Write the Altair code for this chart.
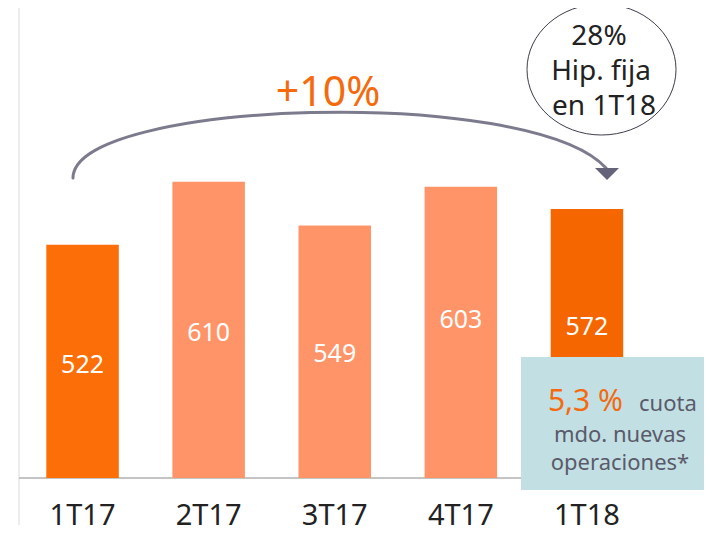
import altair as alt
import pandas as pd

# ---- data ----
quarters = ["1T17", "2T17", "3T17", "4T17", "1T18"]
values = [522, 610, 549, 603, 572]
label_at = [354, 399, 370, 417, 407]          # where each value label sits (data units)
bar_colors = ["#fc6f08", "#ff9468", "#ff9468", "#ff9468", "#f56600"]

growth_text = "+10%"
bubble_lines = ["28%", "Hip. fija", "en 1T18"]
box_head = "5,3 %"
box_head_tail = "cuota"
box_lines = ["mdo. nuevas", "operaciones*"]

FONT = "Noto Sans"
BASE = 197
TOP = 852

df = pd.DataFrame({"quarter": quarters, "value": values, "label_at": label_at})
one = alt.Data(values=[{"a": 1}])

W, H = 696, 470
OFF = 8  # page margin


def px(x):
    return x - OFF


x_enc = alt.X(
    "quarter:N",
    sort=quarters,
    scale=alt.Scale(range=[11.5, 642], paddingInner=0.425, paddingOuter=0.2125),
    axis=alt.Axis(
        title=None, labelAngle=0, domain=False, ticks=False, tickSize=0,
        labelFont=FONT, labelFontSize=29, labelColor="#222222",
        labelBaseline="alphabetic", labelPadding=46, grid=False,
    ),
)
y_scale = alt.Scale(domain=[BASE, TOP], zero=False, nice=False)

base = alt.Chart(df)

bars = base.mark_bar().encode(
    x=x_enc,
    y=alt.Y("value:Q", scale=y_scale, axis=None),
    y2=alt.datum(BASE),
    color=alt.Color("quarter:N", scale=alt.Scale(domain=quarters, range=bar_colors), legend=None),
)

bar_labels = base.mark_text(
    font=FONT, fontSize=25, color="white", baseline="middle", align="center"
).encode(
    x=alt.X("quarter:N", sort=quarters),
    y=alt.Y("label_at:Q", scale=y_scale),
    text=alt.Text("value:Q"),
)

# frame lines
left_border = alt.Chart(one).mark_rule(color="#ececec", strokeWidth=2).encode(
    x=alt.value(px(19)), y=alt.value(0), y2=alt.value(517))
right_border = alt.Chart(one).mark_rule(color="#ececec", strokeWidth=2).encode(
    x=alt.value(px(707)), y=alt.value(0), y2=alt.value(517))
baseline = alt.Chart(one).mark_rule(color="#c4c4c4", strokeWidth=2).encode(
    x=alt.value(px(19)), x2=alt.value(px(707)), y=alt.value(px(478)))

# info box
box = alt.Chart(one).mark_rect(color="#c2e0e4").encode(
    x=alt.value(px(521)), x2=alt.value(W), y=alt.value(px(357)), y2=alt.value(px(490)))
box_t1 = alt.Chart(one).mark_text(font=FONT, fontSize=30, color="#f36a10", align="right",
                                   baseline="alphabetic").encode(
    x=alt.value(px(623)), y=alt.value(px(411)), text=alt.value(box_head))
box_t2 = alt.Chart(one).mark_text(font=FONT, fontSize=22, color="#5a5a6a", align="left",
                                   baseline="alphabetic").encode(
    x=alt.value(px(639)), y=alt.value(px(411)), text=alt.value(box_head_tail))
box_t3 = alt.Chart(one).mark_text(font=FONT, fontSize=22, color="#5a5a6a", align="center",
                                   baseline="alphabetic").encode(
    x=alt.value(px(620)), y=alt.value(px(442)), text=alt.value(box_lines[0]))
box_t4 = alt.Chart(one).mark_text(font=FONT, fontSize=22, color="#5a5a6a", align="center",
                                   baseline="alphabetic").encode(
    x=alt.value(px(620)), y=alt.value(px(470)), text=alt.value(box_lines[1]))

# curved arrow (custom symbol path in unit square)
acx, acy, half = 340, 145, 270
pts = [(73, 178), (73, 100), (530, 85), (606, 168)]
u = [((x - acx) / half, (y - acy) / half) for x, y in pts]
arc_path = "M {:.4f} {:.4f} C {:.4f} {:.4f} {:.4f} {:.4f} {:.4f} {:.4f}".format(
    u[0][0], u[0][1], u[1][0], u[1][1], u[2][0], u[2][1], u[3][0], u[3][1])
arc = alt.Chart(one).mark_point(
    shape=arc_path, filled=False, stroke="#7c7b8e", strokeWidth=3, opacity=1,
    strokeCap="round", size=(2 * half) ** 2,
).encode(x=alt.value(px(acx)), y=alt.value(px(acy)))

arrow_head = alt.Chart(one).mark_point(
    shape="M -1 -0.5 L 1 -0.5 L 0 0.5 Z", filled=True, color="#64637a", opacity=1,
    size=24 ** 2,
).encode(x=alt.value(px(607)), y=alt.value(px(174)))

growth = alt.Chart(one).mark_text(font=FONT, fontSize=41, color="#f46a0c", align="center",
                                   baseline="alphabetic").encode(
    x=alt.value(px(328)), y=alt.value(px(106)), text=alt.value(growth_text))

# bubble (ellipse)
ew, eh = 149, 131
ry = eh / ew
k = 0.5523
ell_path = (
    f"M -1 0 C -1 {-k*ry:.4f} {-k:.4f} {-ry:.4f} 0 {-ry:.4f} "
    f"C {k:.4f} {-ry:.4f} 1 {-k*ry:.4f} 1 0 "
    f"C 1 {k*ry:.4f} {k:.4f} {ry:.4f} 0 {ry:.4f} "
    f"C {-k:.4f} {ry:.4f} -1 {k*ry:.4f} -1 0 Z"
)
bubble = alt.Chart(one).mark_point(
    shape=ell_path, filled=False, stroke="#3c3c4c", strokeWidth=1, opacity=1, size=ew ** 2,
).encode(x=alt.value(px(601.5)), y=alt.value(px(69.5)))

bubble_texts = []
for line, (bx, by) in zip(bubble_lines, [(599, 45), (601, 80), (604, 115)]):
    bubble_texts.append(
        alt.Chart(one).mark_text(font=FONT, fontSize=28, color="#222222", align="center",
                                 baseline="alphabetic").encode(
            x=alt.value(px(bx)), y=alt.value(px(by)), text=alt.value(line))
    )

chart = alt.layer(
    left_border, right_border, baseline, bars, box, bar_labels,
    box_t1, box_t2, box_t3, box_t4, arc, arrow_head, growth, bubble, *bubble_texts,
).properties(
    width=W, height=H,
    autosize=alt.AutoSizeParams(type="none"),
    padding={"left": 0, "top": 0, "right": 0, "bottom": 47},
    background="white",
).configure_view(stroke=None)

chart.save("out.html", embed_options={"renderer": "svg", "actions": False})
